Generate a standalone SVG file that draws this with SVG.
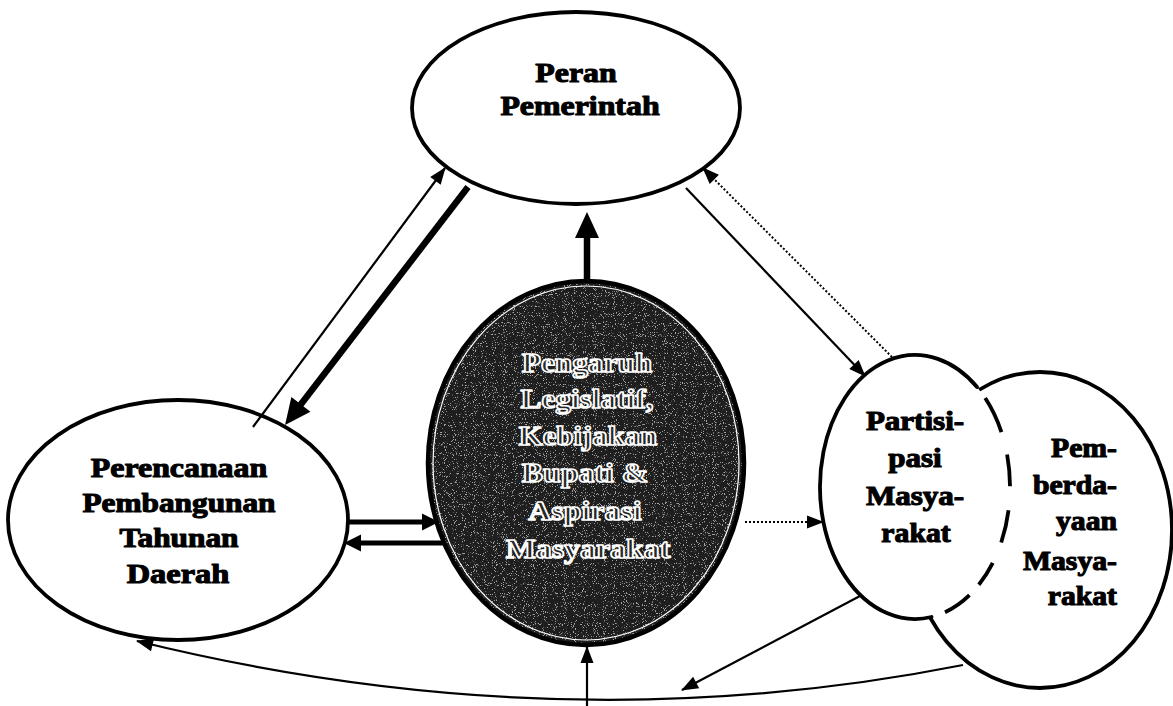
<svg xmlns="http://www.w3.org/2000/svg" width="1173" height="706" viewBox="0 0 1173 706">
  <defs>
    <style>
      .node { fill: #fff; stroke: #000; stroke-width: 3.8; }
      .lbl { font-family: "Liberation Serif", "Times New Roman", serif; font-weight: bold; font-size: 27px; fill: #000; stroke: #000; stroke-width: 1.1; stroke-linejoin: round; text-anchor: middle; }
      .lbl-end { text-anchor: end; }
      .lbl-inv { fill: #262626; stroke: #fff; stroke-width: 1.6; }
      .thin { fill: none; stroke: #000; stroke-width: 2.2; }
      .thick { fill: none; stroke: #000; stroke-width: 6.5; }
      .bar { fill: none; stroke: #000; stroke-width: 5; }
      .dotted { fill: none; stroke: #000; stroke-width: 2; stroke-dasharray: 2 2; }
    </style>
    <marker id="head-s" markerUnits="userSpaceOnUse" markerWidth="17" markerHeight="13" refX="16" refY="6.5" orient="auto" overflow="visible">
      <path d="M0,0 L17,6.5 L0,13 z" fill="#000"/>
    </marker>
    <marker id="head-m" markerUnits="userSpaceOnUse" markerWidth="17" markerHeight="17" refX="8" refY="8.5" orient="auto" overflow="visible">
      <path d="M0,0 L17,8.5 L0,17 z" fill="#000"/>
    </marker>
    <marker id="head-l" markerUnits="userSpaceOnUse" markerWidth="26" markerHeight="24" refX="10" refY="12" orient="auto" overflow="visible">
      <path d="M0,0 L26,12 L0,24 z" fill="#000"/>
    </marker>
    <filter id="speckle" color-interpolation-filters="sRGB">
      <feTurbulence type="fractalNoise" baseFrequency="0.9" numOctaves="1" seed="7" result="noise"/>
      <feColorMatrix in="noise" type="matrix" values="0 0 0 0 1  0 0 0 0 1  0 0 0 0 1  14 0 0 0 -8.4" result="dots"/>
      <feComposite in="dots" in2="SourceAlpha" operator="in"/>
    </filter>
  </defs>

  <rect width="1173" height="706" fill="#fff"/>

  <!-- Peran Pemerintah -->
  <g id="node-pemerintah">
    <ellipse class="node" cx="576" cy="108" rx="164" ry="96"/>
    <text class="lbl" transform="translate(576 82) scale(1.18 1)">Peran</text>
    <text class="lbl" transform="translate(580 115) scale(1.18 1)">Pemerintah</text>
  </g>

  <!-- Perencanaan Pembangunan Tahunan Daerah -->
  <g id="node-perencanaan">
    <ellipse class="node" cx="178" cy="520" rx="170" ry="120"/>
    <text class="lbl" transform="translate(179 477) scale(1.18 1)">Perencanaan</text>
    <text class="lbl" transform="translate(179 512) scale(1.16 1)">Pembangunan</text>
    <text class="lbl" transform="translate(179 547) scale(1.16 1)">Tahunan</text>
    <text class="lbl" transform="translate(178 583) scale(1.2 1)">Daerah</text>
  </g>

  <!-- Pengaruh Legislatif (dark central node) -->
  <g id="node-pengaruh">
    <ellipse cx="586" cy="463" rx="158" ry="182" fill="#1e1e1e"/>
    <ellipse cx="586" cy="463" rx="158" ry="182" fill="#000" filter="url(#speckle)" opacity="0.6"/>
    <ellipse cx="586" cy="463" rx="153" ry="177" fill="none" stroke="#fff" stroke-width="1.2"/>
    <ellipse cx="586" cy="463" rx="158" ry="182" fill="none" stroke="#000" stroke-width="4.5"/>
    <g class="lbl lbl-inv">
      <text transform="translate(587 372) scale(1.16 1)">Pengaruh</text>
      <text transform="translate(587 408) scale(1.16 1)">Legislatif,</text>
      <text transform="translate(588 445) scale(1.14 1)">Kebijakan</text>
      <text transform="translate(585 482) scale(1.18 1)">Bupati &amp;</text>
      <text transform="translate(585 520) scale(1.18 1)">Aspirasi</text>
      <text transform="translate(588 558) scale(1.18 1)">Masyarakat</text>
    </g>
  </g>

  <!-- Pemberdayaan Masyarakat -->
  <g id="node-pemberdayaan">
    <ellipse class="node" cx="1040" cy="530" rx="132" ry="158"/>
    <text class="lbl lbl-end" transform="translate(1117 457) scale(1.1 1)">Pem-</text>
    <text class="lbl lbl-end" transform="translate(1117 494) scale(1.1 1)">berda-</text>
    <text class="lbl lbl-end" transform="translate(1117 530) scale(1.1 1)">yaan</text>
    <text class="lbl lbl-end" transform="translate(1117 570) scale(1.1 1)">Masya-</text>
    <text class="lbl lbl-end" transform="translate(1117 605) scale(1.1 1)">rakat</text>
  </g>

  <!-- Partisipasi Masyarakat (overlapping, inner edge dashed) -->
  <g id="node-partisipasi">
    <ellipse cx="915" cy="487" rx="95" ry="132" fill="#fff"/>
    <path d="M977,387 A95,132 0 1 0 931.5,617" fill="none" stroke="#000" stroke-width="3.8" stroke-linecap="round"/>
    <path d="M985.2,398 A95,132 0 0 1 943.3,613" fill="none" stroke="#000" stroke-width="3.8" stroke-dasharray="38 23 32 24 33 22 26 14 30"/>
    <text class="lbl" transform="translate(915 430) scale(1.15 1)">Partisi-</text>
    <text class="lbl" transform="translate(915 467) scale(1.15 1)">pasi</text>
    <text class="lbl" transform="translate(915 505) scale(1.15 1)">Masya-</text>
    <text class="lbl" transform="translate(916 542) scale(1.1 1)">rakat</text>
  </g>

  <!-- Connectors -->
  <g id="connectors">
    <!-- Perencanaan <-> Pemerintah -->
    <line class="thin" x1="253" y1="427" x2="445" y2="168" marker-end="url(#head-s)"/>
    <line class="thick" x1="468" y1="187" x2="294.8" y2="412.3" marker-end="url(#head-l)"/>
    <!-- Pengaruh -> Pemerintah -->
    <line class="thick" x1="587" y1="283" x2="587" y2="228" stroke-width="8.5" marker-end="url(#head-l)"/>
    <!-- Pemerintah <-> Partisipasi -->
    <line class="thin" x1="686" y1="188" x2="865" y2="376" marker-end="url(#head-s)"/>
    <line class="dotted" x1="892" y1="357" x2="703" y2="168" marker-end="url(#head-s)"/>
    <!-- Perencanaan <-> Pengaruh -->
    <line class="bar" x1="348" y1="522" x2="430" y2="522" marker-end="url(#head-m)"/>
    <line class="bar" x1="444" y1="543" x2="353" y2="543" marker-end="url(#head-m)"/>
    <!-- Pengaruh -> Partisipasi -->
    <line class="dotted" x1="745" y1="522" x2="823" y2="522" marker-end="url(#head-s)"/>
    <!-- feedback from below -->
    <line class="thin" x1="587" y1="706" x2="587" y2="647" marker-end="url(#head-s)"/>
    <line class="thin" x1="860" y1="596" x2="682" y2="690" marker-end="url(#head-s)"/>
    <path class="thin" d="M963,665 Q560,745 137,641" marker-end="url(#head-s)"/>
  </g>
</svg>
